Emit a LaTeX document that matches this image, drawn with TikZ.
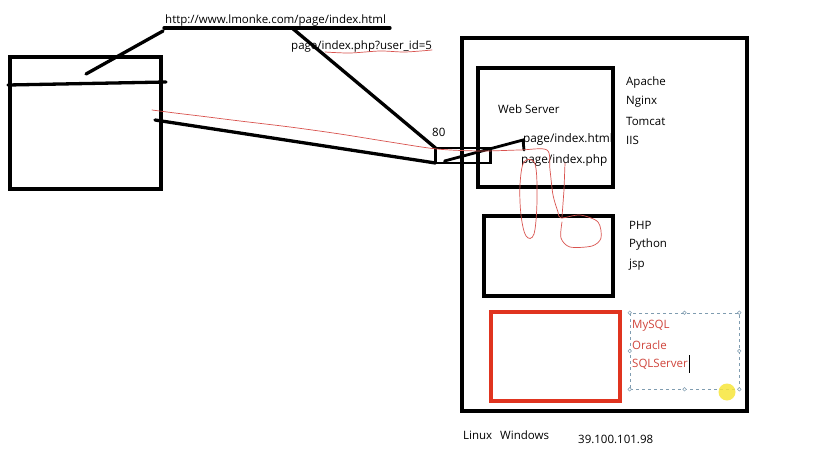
\documentclass[tikz,border=0pt]{standalone}
\usepackage{fontspec}
\setmainfont{Open Sans}
\usetikzlibrary{calc,positioning}
\definecolor{Ink}{HTML}{000000}
\definecolor{Pen}{HTML}{D9534F}
\definecolor{Alarm}{HTML}{E0341F}
\definecolor{DbText}{HTML}{D0453C}
\definecolor{Frame}{HTML}{7F9CB0}
\definecolor{Spot}{HTML}{F7E63A}
\tikzset{
  box/.style={draw=Ink, line width=3.2pt, inner sep=0pt, outer sep=0pt},
  stroke/.style={draw=Ink, line width=3.3pt, line cap=round},
  redpen/.style={draw=Pen, line width=0.7pt, line cap=round},
  lbl/.style={anchor=west, inner sep=0pt, font=\fontsize{11.5}{13}\selectfont},
  biglbl/.style={lbl, font=\fontsize{11.8}{13}\selectfont},
  handle/.style={circle, draw=Frame, fill=white, line width=0.5pt, inner sep=0pt, minimum size=3.6pt}
}
\begin{document}
\begin{tikzpicture}[x=1pt,y=-1pt]
  \useasboundingbox (0,0) rectangle (831,461);
  \fill[white] (0,0) rectangle (831,461);
    % browser
    \node[box, minimum width=151, minimum height=132] (browser) at (85.5,123) {};
    \coordinate (barl) at (8,85);
    \coordinate (barr) at (166,82);
    \draw[stroke] (barl) -- (barr);
    \coordinate (click) at (86,74);
    \coordinate (send) at (155,120);
    % address
    \node[lbl, anchor=base west] (url) at (165,23) {http://www.lmonke.com/page/index.html};
    \coordinate (ul) at (164,28);
    \coordinate (ur) at (390,28);
    \coordinate (um) at (292,28);
    \draw[stroke] (ul) -- (ur);
    \node[lbl, anchor=base west] (query) at (291,49) {page/index.php?user\_id=5};
    % server
    \node[box, minimum width=285, minimum height=373] (server) at (604.5,224.5) {};
    \node[box, line width=2.6pt, minimum width=55, minimum height=15] (port) at (463,155.5) {};
    \node[lbl] (portno) at (432,132) {80};
    \node[box, minimum width=135, minimum height=119] (web) at (545.5,127.5) {};
    \node[lbl] (webname) at (498,109) {Web Server};
    \node[biglbl] (html) at (523,139) {page/index.html};
    \node[biglbl] (php) at (521,160) {page/index.php};
    \node[lbl] (apache) at (626,83) {Apache};
    \node[lbl] (nginx) at (626,102) {Nginx};
    \node[lbl] (tomcat) at (626,121) {Tomcat};
    \node[lbl] (iis) at (626,140) {IIS};
    \node[box, minimum width=129, minimum height=80] (lang) at (548.5,256) {};
    \node[lbl] (phpname) at (629,225) {PHP};
    \node[lbl] (python) at (629,245) {Python};
    \node[lbl] (jsp) at (629,265) {jsp};
    \node[box, draw=Alarm, line width=3.2pt, minimum width=129, minimum height=89] (db) at (555.5,356.5) {};
    \node[draw=Frame, dashed, line width=0.6pt, minimum width=109, minimum height=76, inner sep=0pt] (sel) at (684.5,351) {};
    \foreach \a in {north west,north,north east,east,south east,south,south west,west}
      \node[handle] at (sel.\a) {};
    \node[lbl, text=DbText] (mysql) at (632,326) {MySQL};
    \node[lbl, text=DbText] (oracle) at (632,345) {Oracle};
    \node[lbl, text=DbText] (sqlserver) at (632,364) {SQLServer};
    \draw[Ink, line width=1.4pt] ($(sqlserver.east)+(1.5,-9)$) -- ($(sqlserver.east)+(1.5,9)$);
    \fill[Spot, opacity=0.85] (727,392) circle (8.5);
    \node[lbl] (linux) at (463,435) {Linux};
    \node[lbl] (windows) at (500,435) {Windows};
    \node[lbl] (ip) at (578,439) {39.100.101.98};
    % strokes
    \draw[stroke] (click) -- ($(ul)+(-1,3)$);
    \draw[stroke] (um) -- (port.north west);
    \draw[stroke] (send) -- (port.south west);
    \coordinate (tip) at (523,140);
    \draw[stroke, line width=2.8pt] ($(port.south west)+(9,-2)$) -- (tip) -- ++(1,10);
    % red pen
    \draw[redpen] plot[smooth, tension=0.5] coordinates {(152,110) (175,113) (200,116) (240,121) (290,127) (340,134) (390,142) (437,149) (480,151) (520,150) (547,150) (550,170) (553,195) (558,212) (561,218) (580,215) (598,222) (601,238) (592,246) (570,247) (561,238) (562,222)};
    \draw[redpen] (565,163) -- (564,190) -- (562,217);
    \draw[redpen] plot[smooth cycle, tension=0.6] coordinates {(524,162) (535,164) (537,200) (534,234) (526,236) (521,215) (520,185)};
    \draw[redpen] plot[smooth, tension=0.5] coordinates {(325,52) (350,53) (380,51) (405,52) (432,50)};
\end{tikzpicture}
\end{document}
